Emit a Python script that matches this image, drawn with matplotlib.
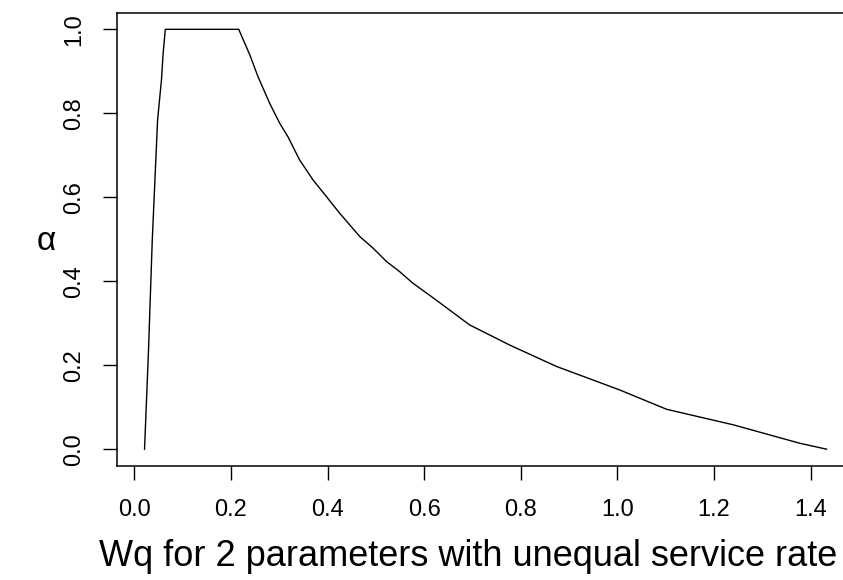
import numpy as np
import matplotlib
matplotlib.use("Agg")
import matplotlib.pyplot as plt

plt.rcParams["font.family"] = ["Liberation Sans", "DejaVu Sans"]

# valores
wq = [0.021, 0.029, 0.037, 0.048, 0.056, 0.0595, 0.064,
      0.216, 0.239, 0.256, 0.280, 0.301, 0.318, 0.342, 0.370, 0.398,
      0.425, 0.467, 0.494, 0.522, 0.549, 0.577, 0.625, 0.694, 0.777,
      0.874, 1.005, 1.102, 1.240, 1.378, 1.433]
alpha = [0.0, 0.229, 0.498, 0.784, 0.879, 0.943, 1.0,
         1.0, 0.939, 0.887, 0.824, 0.776, 0.744, 0.689, 0.641, 0.601,
         0.562, 0.506, 0.479, 0.447, 0.423, 0.395, 0.355, 0.296, 0.248,
         0.197, 0.141, 0.095, 0.058, 0.014, 0.0]
x_ticks = [0.0, 0.2, 0.4, 0.6, 0.8, 1.0, 1.2, 1.4]
y_ticks = [0.0, 0.2, 0.4, 0.6, 0.8, 1.0]

fig = plt.figure(figsize=(8.43, 5.8), dpi=100)
ax = fig.add_axes([0.1391, 0.1966, 0.8737, 0.7818])

ax.plot(wq, alpha, color="black", linewidth=1.0)

# márgenes estilo R (4 %)
span_x = max(wq) - min(wq)
ax.set_xlim(min(wq) - 0.04 * span_x, max(wq) + 0.04 * span_x)
ax.set_ylim(-0.04, 1.04)

ax.set_xticks(x_ticks)
ax.set_xticklabels([f"{v:.1f}" for v in x_ticks])
ax.set_yticks(y_ticks)
ax.set_yticklabels([f"{v:.1f}" for v in y_ticks], rotation=90, va="center")

ax.tick_params(axis="both", direction="out", length=10, width=1.0,
               labelsize=17, color="black")
ax.tick_params(axis="x", pad=14)
ax.tick_params(axis="y", pad=13)

for lado in ["left", "top", "bottom", "right"]:
    ax.spines[lado].set_linewidth(1.1)
    ax.spines[lado].set_color("black")

fig.text(468 / 843, 1 - 557 / 580, "Wq for 2 parameters with unequal service rate",
         ha="center", va="center", fontsize=26)
fig.text(46 / 843, 1 - 241 / 580, "α", ha="center", va="center", fontsize=24)

fig.savefig("out.png", dpi=100)
plt.close(fig)
